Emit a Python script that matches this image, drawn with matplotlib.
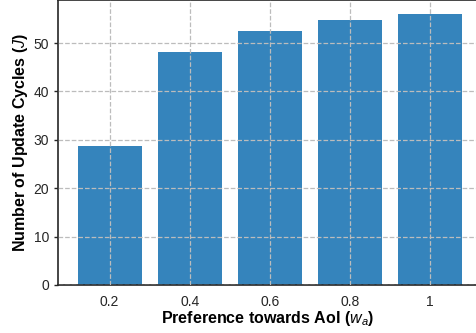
import matplotlib
matplotlib.use("Agg")
import matplotlib.pyplot as plt

plt.rcParams['font.family'] = ['Liberation Sans', 'DejaVu Sans']
plt.rcParams['mathtext.fontset'] = 'custom'
plt.rcParams['mathtext.it'] = 'Liberation Sans:italic'
plt.rcParams['mathtext.rm'] = 'Liberation Sans'

# Preference weight towards AoI and resulting number of update cycles
weights = ["0.2", "0.4", "0.6", "0.8", "1"]
cycles = [28.7, 48.1, 52.5, 54.8, 56.0]

fig = plt.figure(figsize=(4.76, 3.33), dpi=100)
ax = fig.add_axes([58.3 / 476, 48 / 333, 1 - 58.3 / 476, 1 - 48 / 333])

x = range(len(weights))
ax.bar(x, cycles, width=0.8, color="#3584bc", zorder=2)

ax.set_xticks(list(x))
ax.set_xticklabels(weights)
ax.set_xlim(-0.64, 4.575)
ax.set_ylim(0, 58.9)
ax.set_yticks([0, 10, 20, 30, 40, 50])

ax.grid(True, linestyle="--", color="#bcbcbc", linewidth=0.9, zorder=3)
ax.set_axisbelow(False)

for side in ["left", "top", "bottom"]:
    ax.spines[side].set_color("#262626")
    ax.spines[side].set_linewidth(1.2)
ax.spines["right"].set_visible(False)

ax.tick_params(axis="x", length=0, labelsize=10, pad=7, colors="#262626")
ax.tick_params(axis="y", length=3.2, width=1, labelsize=10, pad=3.5, colors="#262626")

ax.set_xlabel("Preference towards AoI ($w_a$)", fontsize=11.5, fontweight="bold", labelpad=0)
ax.set_ylabel("Number of Update Cycles ($J$)", fontsize=11.5, fontweight="bold", labelpad=2.5)

fig.savefig("out.png", dpi=100)
